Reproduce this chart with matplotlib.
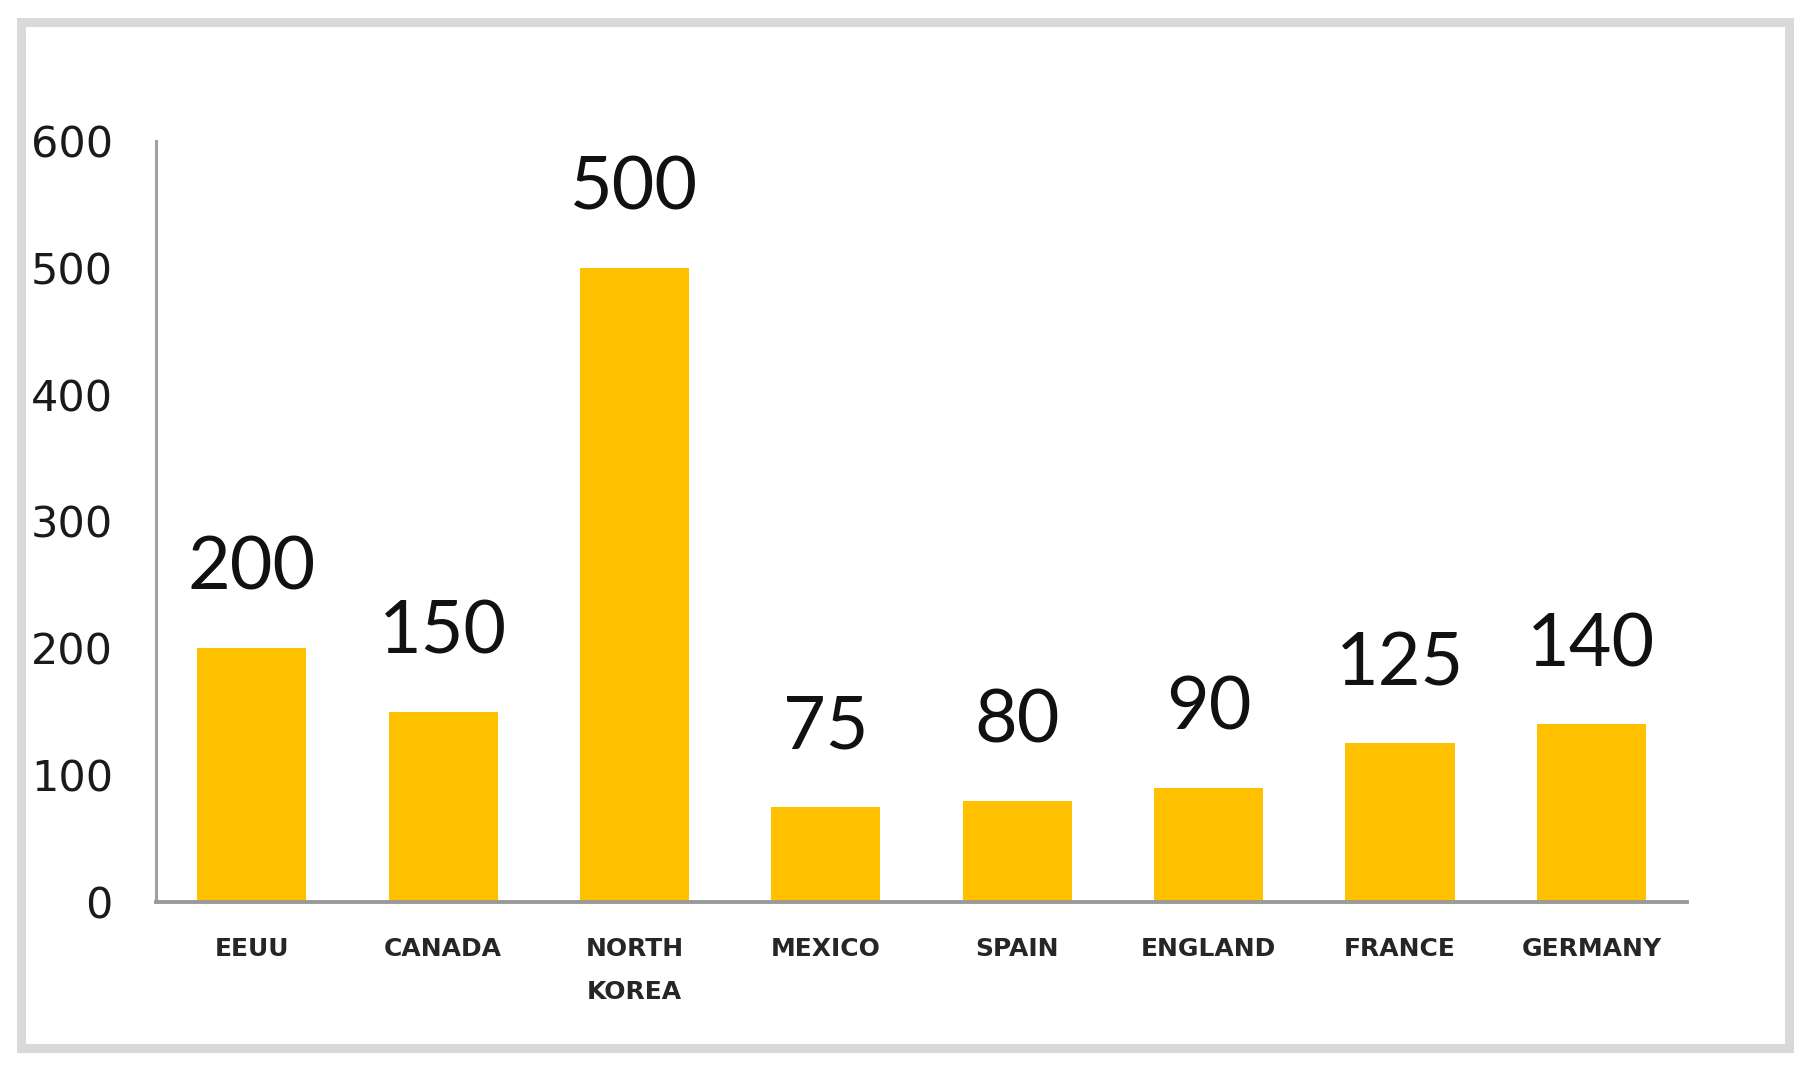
import matplotlib.pyplot as plt
from matplotlib.patches import Rectangle

countries = ["EEUU", "CANADA", "NORTH\nKOREA", "MEXICO", "SPAIN", "ENGLAND", "FRANCE", "GERMANY"]
values = [200, 150, 500, 75, 80, 90, 125, 140]
yticks = [0, 100, 200, 300, 400, 500, 600]

bar_color = "#FFC000"

fig = plt.figure(figsize=(18.1, 10.72), dpi=100)
ax = fig.add_axes([0.0862, 0.1586, 0.8459, 0.7099])

x = range(len(countries))
bars = ax.bar(x, values, width=0.57, color=bar_color)

# value labels above the bars
for xi, v in zip(x, values):
    ax.annotate(str(v), (xi, v), xytext=(0, 42), textcoords="offset points",
                ha="center", va="baseline", fontsize=53, family="Lato", color="#111111")

ax.set_xlim(-0.5, len(countries) - 0.5)
ax.set_ylim(0, 600)
ax.set_yticks(yticks)
ax.set_yticklabels([str(t) for t in yticks], fontsize=31, color="#1a1a1a")
ax.set_xticks(list(x))
ax.set_xticklabels(countries, fontsize=18, fontweight="bold", color="#262626", linespacing=2.0)
ax.tick_params(axis="y", length=0, pad=31)
ax.tick_params(axis="x", length=0, pad=25)

ax.spines["top"].set_visible(False)
ax.spines["right"].set_visible(False)
ax.spines["left"].set_color("#a0a0a0")
ax.spines["left"].set_linewidth(2.2)
ax.spines["bottom"].set_color("#999999")
ax.spines["bottom"].set_linewidth(2.8)

# gray frame around the whole chart
frame = Rectangle((0.01133, 0.02285), 0.9768, 0.9562, transform=fig.transFigure,
                  fill=False, edgecolor="#d9d9d9", linewidth=6.5)
fig.patches.append(frame)

fig.savefig("out.png", dpi=100)
